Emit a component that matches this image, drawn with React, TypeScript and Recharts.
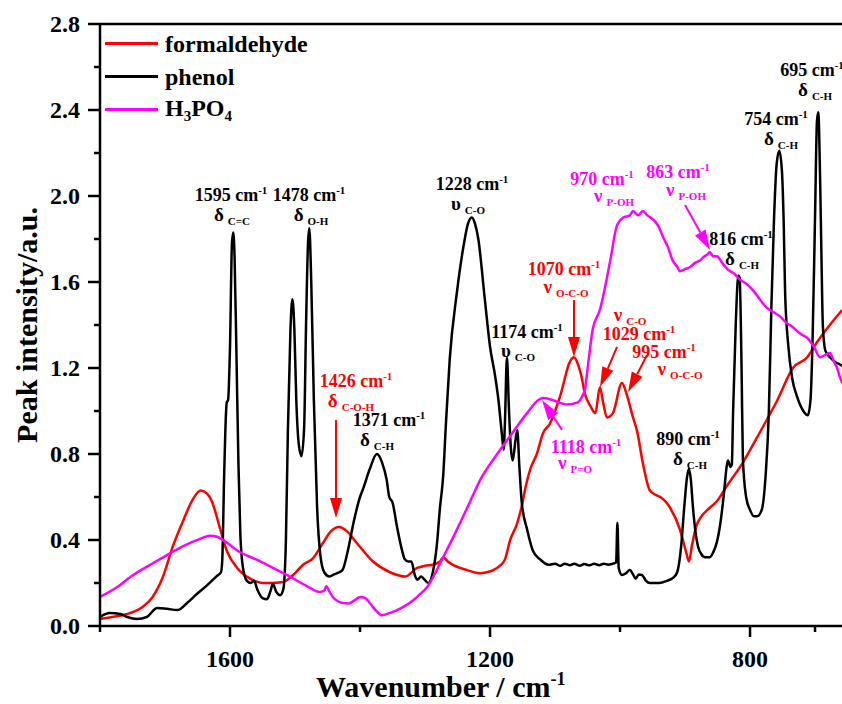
import React from "react";
import {
  Legend,
  Line,
  LineChart,
  ReferenceDot,
  ReferenceLine,
  XAxis,
  YAxis,
} from "recharts";

const FONT = '"Liberation Serif", "Times New Roman", serif';
const RED = "#ff0000";
const BLACK = "#000000";
const MAGENTA = "#ff00ff";

const seriesNames = ["formaldehyde", "phenol", "H3PO4"];

// [wavenumber, intensity]
const formaldehyde: [number, number][] = [
  [1800, 0.033], [1785, 0.04], [1774, 0.045], [1754, 0.06], [1734, 0.09], [1719, 0.135],
  [1703, 0.23], [1688, 0.37], [1672, 0.49], [1657, 0.59], [1645, 0.63], [1635, 0.615],
  [1628, 0.58], [1615, 0.45], [1605, 0.35], [1589, 0.27], [1569, 0.22], [1550, 0.2],
  [1538, 0.2], [1518, 0.205], [1503, 0.237], [1488, 0.284], [1472, 0.316], [1457, 0.386],
  [1445, 0.44], [1432, 0.46], [1420, 0.44], [1405, 0.386], [1380, 0.3], [1354, 0.25],
  [1340, 0.235], [1331, 0.23], [1312, 0.27], [1300, 0.28], [1288, 0.285], [1277, 0.3],
  [1272, 0.32], [1265, 0.3], [1257, 0.284], [1235, 0.26], [1215, 0.245], [1205, 0.25],
  [1195, 0.26], [1185, 0.28], [1177, 0.31], [1169, 0.4], [1158, 0.48], [1151, 0.56],
  [1145, 0.65], [1138, 0.73], [1128, 0.8], [1118, 0.9], [1108, 0.94], [1092, 1.07],
  [1077, 1.23], [1071, 1.25], [1065, 1.22], [1060, 1.17], [1054, 1.08], [1045, 1.02],
  [1038, 0.99], [1031, 1.11], [1026, 1.04], [1020, 0.97], [1011, 0.99], [997, 1.13],
  [990, 1.08], [980, 0.97], [974, 0.91], [965, 0.76], [954, 0.63], [945, 0.61],
  [938, 0.6], [923, 0.55], [908, 0.45], [898, 0.34], [894, 0.3], [889, 0.38],
  [882, 0.47], [877, 0.5], [862, 0.55], [851, 0.58], [836, 0.65], [811, 0.76],
  [785, 0.9], [758, 1.05], [734, 1.2], [712, 1.25], [697, 1.32], [672, 1.42], [658, 1.47],
];

const phenol: [number, number][] = [
  [1800, 0.042], [1785, 0.06], [1769, 0.056], [1758, 0.042], [1743, 0.033], [1728, 0.042],
  [1712, 0.084], [1697, 0.08], [1681, 0.074], [1666, 0.107], [1651, 0.149], [1635, 0.19],
  [1620, 0.233], [1614, 0.25], [1612, 0.3], [1609, 0.7], [1606, 1.0], [1605, 1.04],
  [1603, 1.05], [1600, 1.3], [1597, 1.78], [1595, 1.83], [1593, 1.72], [1590, 1.25],
  [1587, 0.75], [1584, 0.42], [1580, 0.27], [1574, 0.21], [1568, 0.2], [1563, 0.21],
  [1558, 0.17], [1550, 0.13], [1543, 0.125], [1538, 0.16], [1534, 0.195], [1529, 0.16],
  [1523, 0.143], [1518, 0.17], [1514, 0.4], [1511, 0.9], [1507, 1.38], [1504, 1.52],
  [1501, 1.38], [1498, 1.05], [1494, 0.84], [1490, 0.79], [1486, 0.92], [1483, 1.4],
  [1480, 1.78], [1478, 1.85], [1475, 1.6], [1471, 1.05], [1466, 0.55], [1461, 0.33],
  [1455, 0.25], [1447, 0.23], [1440, 0.24], [1432, 0.25], [1427, 0.26], [1418, 0.36],
  [1410, 0.48], [1400, 0.6], [1395, 0.64], [1385, 0.73], [1374, 0.8], [1366, 0.76],
  [1359, 0.68], [1355, 0.6], [1350, 0.575], [1343, 0.46], [1336, 0.36], [1331, 0.31],
  [1326, 0.3], [1321, 0.3], [1316, 0.24], [1312, 0.215], [1306, 0.23], [1302, 0.22],
  [1295, 0.2], [1288, 0.25], [1282, 0.37], [1277, 0.55], [1272, 0.7], [1268, 0.93],
  [1262, 1.24], [1251, 1.55], [1240, 1.78], [1234, 1.87], [1228, 1.9], [1223, 1.87],
  [1218, 1.8], [1208, 1.52], [1200, 1.3], [1192, 1.16], [1187, 1.05], [1182, 0.9],
  [1179, 0.82], [1177, 0.95], [1174, 1.25], [1171, 1.02], [1168, 0.83], [1165, 0.77],
  [1161, 0.86], [1158, 0.91], [1155, 0.75], [1151, 0.57], [1143, 0.45], [1134, 0.35],
  [1123, 0.31], [1110, 0.285], [1100, 0.29], [1092, 0.28], [1085, 0.29], [1077, 0.283],
  [1070, 0.29], [1062, 0.28], [1055, 0.288], [1047, 0.282], [1040, 0.29], [1032, 0.283],
  [1025, 0.29], [1018, 0.285], [1011, 0.29], [1006, 0.295], [1004, 0.48], [1002, 0.27],
  [997, 0.237], [991, 0.245], [985, 0.26], [980, 0.24], [976, 0.22], [971, 0.24],
  [966, 0.237], [960, 0.21], [954, 0.2], [940, 0.2], [928, 0.21], [918, 0.225],
  [912, 0.25], [906, 0.37], [901, 0.56], [897, 0.69], [894, 0.73], [891, 0.68],
  [888, 0.56], [884, 0.44], [880, 0.37], [875, 0.335], [869, 0.32], [862, 0.32],
  [857, 0.34], [851, 0.39], [846, 0.47], [840, 0.62], [836, 0.74], [834, 0.77],
  [830, 0.74], [828, 0.75], [826, 1.0], [822, 1.4], [818, 1.63], [816, 1.62],
  [813, 1.2], [811, 0.78], [806, 0.6], [800, 0.54], [794, 0.51], [789, 0.51],
  [782, 0.54], [776, 0.7], [771, 1.0], [767, 1.5], [763, 1.9], [759, 2.15],
  [755, 2.21], [751, 2.12], [748, 1.85], [746, 1.55], [741, 1.3], [735, 1.15],
  [728, 1.07], [718, 1.0], [711, 0.98], [707, 1.05], [704, 1.3], [700, 1.9],
  [697, 2.35], [695, 2.39], [692, 2.05], [690, 1.7], [688, 1.4], [684, 1.28],
  [677, 1.25], [670, 1.23], [664, 1.22], [658, 1.21],
];

const h3po4: [number, number][] = [
  [1800, 0.135], [1774, 0.18], [1749, 0.237], [1723, 0.284], [1697, 0.33], [1672, 0.372],
  [1646, 0.405], [1631, 0.42], [1620, 0.415], [1611, 0.4], [1585, 0.344], [1558, 0.307],
  [1534, 0.27], [1508, 0.23], [1482, 0.186], [1462, 0.158], [1455, 0.165], [1452, 0.185],
  [1447, 0.16], [1442, 0.135], [1426, 0.107], [1418, 0.105], [1408, 0.12], [1400, 0.135],
  [1392, 0.13], [1385, 0.107], [1375, 0.07], [1366, 0.05], [1355, 0.06], [1343, 0.074],
  [1330, 0.095], [1318, 0.12], [1307, 0.15], [1297, 0.18], [1287, 0.23], [1277, 0.29],
  [1267, 0.35], [1257, 0.41], [1246, 0.48], [1235, 0.55], [1215, 0.68], [1189, 0.8],
  [1165, 0.9], [1143, 0.99], [1126, 1.05], [1118, 1.06], [1103, 1.05], [1082, 1.03],
  [1065, 1.04], [1058, 1.07], [1054, 1.1], [1049, 1.22], [1042, 1.38], [1031, 1.47],
  [1015, 1.7], [1005, 1.86], [995, 1.9], [985, 1.91], [980, 1.93], [972, 1.91],
  [965, 1.93], [958, 1.91], [949, 1.89], [941, 1.86], [934, 1.81], [926, 1.76],
  [919, 1.7], [912, 1.67], [908, 1.65], [900, 1.66], [892, 1.67], [884, 1.69],
  [877, 1.7], [870, 1.72], [865, 1.73], [862, 1.74], [857, 1.72], [851, 1.72],
  [843, 1.69], [835, 1.66], [825, 1.64], [815, 1.61], [805, 1.59], [795, 1.56],
  [785, 1.52], [774, 1.48], [764, 1.46], [754, 1.44], [744, 1.41], [734, 1.39],
  [723, 1.36], [712, 1.34], [702, 1.3], [692, 1.25], [685, 1.26], [677, 1.27],
  [671, 1.23], [666, 1.2], [662, 1.16], [658, 1.13],
];

const xTicks = [1800, 1600, 1400, 1200, 1000, 800, 700];
const xMajor = [1600, 1200, 800];
const yTicks = [0, 0.2, 0.4, 0.6, 0.8, 1.0, 1.2, 1.4, 1.6, 1.8, 2.0, 2.2, 2.4, 2.6, 2.8];
const yMajor = [0, 0.4, 0.8, 1.2, 1.6, 2.0, 2.4, 2.8];

// peak annotations: anchor is centre/baseline of first line, in data units
const peakLabels = [
  { num: "1595", sym: "δ", sub: "C=C", color: BLACK, x: 1598.5, y: 1.977, dx: 1, dy: 20 },
  { num: "1478", sym: "δ", sub: "O-H", color: BLACK, x: 1478.5, y: 1.977, dx: 2, dy: 20 },
  { num: "1371", sym: "δ", sub: "C-H", color: BLACK, x: 1355.4, y: 0.93, dx: -12, dy: 20 },
  { num: "1228", sym: "υ", sub: "C-O", color: BLACK, x: 1227.7, y: 2.028, dx: -4, dy: 20 },
  { num: "1174", sym: "υ", sub: "C-O", color: BLACK, x: 1143.1, y: 1.34, dx: -9, dy: 19 },
  { num: "890", sym: "δ", sub: "C-H", color: BLACK, x: 895.4, y: 0.842, dx: 2, dy: 20 },
  { num: "816", sym: "δ", sub: "C-H", color: BLACK, x: 813.8, y: 1.772, dx: 1, dy: 20 },
  { num: "754", sym: "δ", sub: "C-H", color: BLACK, x: 760, y: 2.33, dx: 5, dy: 20 },
  { num: "695", sym: "δ", sub: "C-H", color: BLACK, x: 704.6, y: 2.558, dx: 3, dy: 20 },
  { num: "1426", sym: "δ", sub: "C-O-H", color: RED, x: 1406.2, y: 1.112, dx: -5, dy: 20 },
  { num: "1070", sym: "ν", sub: "O-C-O", color: RED, x: 1086.1, y: 1.633, dx: 2, dy: 18 },
  { num: "1029", sym: "ν", sub: "C-O", color: RED, x: 984.6, y: 1.42, dx: 9, dy: 19, symFirst: true },
  { num: "995", sym: "ν", sub: "O-C-O", color: RED, x: 932.3, y: 1.247, dx: 16, dy: 17 },
  { num: "970", sym: "ν", sub: "P-OH", color: MAGENTA, x: 1027.7, y: 2.051, dx: 12, dy: 17 },
  { num: "863", sym: "ν", sub: "P-OH", color: MAGENTA, x: 910.8, y: 2.084, dx: 8, dy: 18 },
  { num: "1118", sym: "ν", sub: "P=O", color: MAGENTA, x: 1052.3, y: 0.805, dx: -11, dy: 16 },
];

const arrows = [
  { color: RED, from: [1436.9, 0.958], to: [1436.9, 0.502] },
  { color: RED, from: [1070.8, 1.516], to: [1070.8, 1.251] },
  { color: RED, from: [1004.6, 1.298], to: [1030.8, 1.112] },
  { color: RED, from: [958.5, 1.26], to: [987.7, 1.088] },
  { color: MAGENTA, from: [900, 1.958], to: [861.5, 1.749] },
  { color: MAGENTA, from: [1089.2, 0.912], to: [1120, 1.051] },
];

const toRows = (pts: [number, number][]) => pts.map(([wn, v]) => ({ wn, v }));

const XTick = ({ x, y, payload }: any) => {
  const major = xMajor.includes(payload.value);
  return (
    <g>
      <line x1={x} x2={x} y1={y} y2={y + (major ? 11 : 6)} stroke="#000" strokeWidth={2.5} />
      {major && (
        <text x={x} y={y + 41} textAnchor="middle" fontSize={24} fontWeight="bold" fontFamily={FONT} fill="#000">
          {payload.value}
        </text>
      )}
    </g>
  );
};

const YTick = ({ x, y, payload }: any) => {
  const major = yMajor.some((m) => Math.abs(m - payload.value) < 1e-6);
  return (
    <g>
      <line x1={x - (major ? 12 : 6)} x2={x} y1={y} y2={y} stroke="#000" strokeWidth={2.5} />
      {major && (
        <text x={x - 20} y={y + 8} textAnchor="end" fontSize={24} fontWeight="bold" fontFamily={FONT} fill="#000">
          {payload.value.toFixed(1)}
        </text>
      )}
    </g>
  );
};

const XTitle = () => (
  <text x={316} y={697} fontSize={30} fontWeight="bold" fontFamily={FONT} fill="#000">
    Wavenumber / cm<tspan dy={-12} fontSize={18}>-1</tspan>
  </text>
);

const YTitle = () => (
  <text
    x={37}
    y={325}
    transform="rotate(-90, 37, 325)"
    textAnchor="middle"
    fontSize={30}
    fontWeight="bold"
    fontFamily={FONT}
    fill="#000"
  >
    Peak intensity/a.u.
  </text>
);

const peakShape = (a: any) => (props: any) => {
  const { cx, cy } = props;
  const numX = a.symFirst ? cx + a.dx : cx;
  const numY = a.symFirst ? cy + a.dy : cy;
  const symX = a.symFirst ? cx : cx + a.dx;
  const symY = a.symFirst ? cy : cy + a.dy;
  return (
    <g fontFamily={FONT} fontWeight="bold" fill={a.color}>
      <text x={numX} y={numY} textAnchor="middle" fontSize={18}>
        {a.num} cm<tspan dy={-7} fontSize={11}>-1</tspan>
      </text>
      <text x={symX} y={symY} textAnchor="middle" fontSize={19}>
        {a.sym}
        <tspan dx={4} dy={4} fontSize={11}>{a.sub}</tspan>
      </text>
    </g>
  );
};

const arrowShape = (color: string) => (props: any) => {
  const { x1, y1, x2, y2 } = props;
  const ang = Math.atan2(y2 - y1, x2 - x1);
  const len = 20;
  const hw = 6;
  const bx = x2 - len * Math.cos(ang);
  const by = y2 - len * Math.sin(ang);
  const px = -Math.sin(ang) * hw;
  const py = Math.cos(ang) * hw;
  return (
    <g>
      <line x1={x1} y1={y1} x2={bx} y2={by} stroke={color} strokeWidth={2} />
      <polygon points={`${x2},${y2} ${bx + px},${by + py} ${bx - px},${by - py}`} fill={color} />
    </g>
  );
};

const chem = (name: string) =>
  name.split(/(\d+)/).map((part, i) =>
    /^\d+$/.test(part) ? (
      <sub key={i} style={{ fontSize: 15, verticalAlign: -5, lineHeight: 1 }}>{part}</sub>
    ) : (
      <span key={i}>{part}</span>
    )
  );

// keep the legend in series order (recharts 3 sorts it by name otherwise)
const renderLegend = ({ payload }: any) => {
  const items = [...(payload || [])].sort(
    (a: any, b: any) => seriesNames.indexOf(a.value) - seriesNames.indexOf(b.value)
  );
  return (
    <div style={{ fontFamily: FONT, fontWeight: "bold", fontSize: 24, lineHeight: 1 }}>
      {items.map((p: any) => (
        <div key={p.value} style={{ display: "flex", alignItems: "center", height: 33 }}>
          <span style={{ display: "inline-block", width: 53, height: 3, background: p.color, marginRight: 7 }} />
          <span style={{ color: "#000" }}>{chem(p.value)}</span>
        </div>
      ))}
    </div>
  );
};

export default function App() {
  return (
    <div style={{ position: "fixed", left: 0, top: 0, width: 842, height: 704, overflow: "hidden", background: "#fff" }}>
      <LineChart width={842} height={704} margin={{ top: 24, right: 0, bottom: 0, left: 0 }}>
        <XAxis
          type="number"
          dataKey="wn"
          domain={[658.5, 1800]}
          reversed
          allowDataOverflow
          ticks={xTicks}
          interval={0}
          tickLine={false}
          tickSize={0}
          tickMargin={0}
          tick={XTick}
          height={78}
          axisLine={{ stroke: "#000", strokeWidth: 2.5 }}
          label={XTitle}
        />
        <YAxis
          type="number"
          domain={[0, 2.8]}
          allowDataOverflow
          ticks={yTicks}
          interval={0}
          tickLine={false}
          tickSize={0}
          tickMargin={0}
          tick={YTick}
          width={100}
          axisLine={{ stroke: "#000", strokeWidth: 2.5 }}
          label={YTitle}
        />
        <ReferenceLine y={2.8} stroke="#000" strokeWidth={2.5} />
        <Legend
          layout="horizontal"
          verticalAlign="middle"
          align="center"
          content={renderLegend}
          wrapperStyle={{ top: 27, left: 105, width: 260 }}
        />
        <Line name={seriesNames[0]} data={toRows(formaldehyde)} dataKey="v" type="monotone" stroke={RED} strokeWidth={2.5} dot={false} isAnimationActive={false} />
        <Line name={seriesNames[1]} data={toRows(phenol)} dataKey="v" type="monotone" stroke={BLACK} strokeWidth={2.5} dot={false} isAnimationActive={false} />
        <Line name={seriesNames[2]} data={toRows(h3po4)} dataKey="v" type="monotone" stroke={MAGENTA} strokeWidth={2.5} dot={false} isAnimationActive={false} />
        {arrows.map((a, i) => (
          <ReferenceLine
            key={"arrow" + i}
            segment={[{ x: a.from[0], y: a.from[1] }, { x: a.to[0], y: a.to[1] }]}
            shape={arrowShape(a.color)}
          />
        ))}
        {peakLabels.map((a) => (
          <ReferenceDot
            key={a.num + a.color}
            x={a.x}
            y={a.y}
            r={0}
            ifOverflow="visible"
            shape={peakShape(a)}
          />
        ))}
      </LineChart>
    </div>
  );
}
